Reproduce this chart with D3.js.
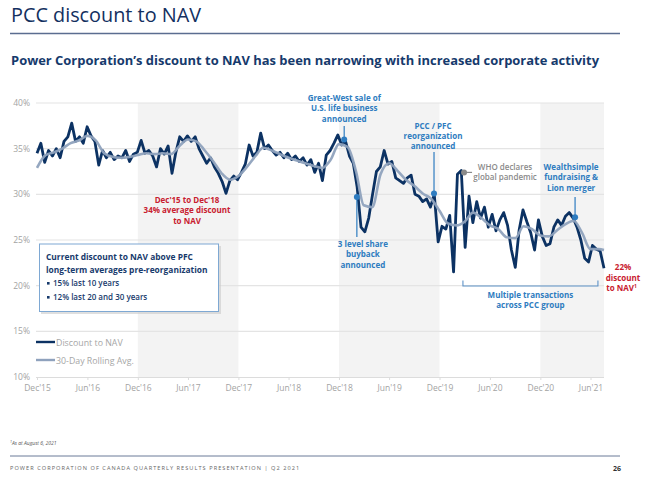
<!DOCTYPE html>
<html><head><meta charset="utf-8">
<script src="https://cdn.jsdelivr.net/npm/d3@7/dist/d3.min.js"></script>
<style>
body{margin:0;background:#fff;}
svg{display:block;font-family:"Open Sans",sans-serif;}
</style></head><body>
<svg id="c" width="659" height="477"></svg>
<script>
// ---- data ----
const discountStart = "2015-12-01";
const discountStepDays = 14;
const discountValues = [34.5,35.6,33.5,34.8,34.2,35.0,34.0,35.8,36.3,37.8,35.8,36.3,35.6,37.4,36.4,35.8,33.2,34.8,34.0,34.6,
33.8,34.2,34.0,34.8,33.6,34.4,34.6,35.9,34.5,34.8,34.2,33.0,35.0,34.4,35.3,32.3,34.6,36.3,35.8,36.4,
35.8,36.3,35.0,34.2,33.4,34.0,33.0,32.3,31.4,30.1,31.5,32.0,31.6,32.4,33.3,35.4,34.2,34.6,36.7,35.0,
35.4,34.8,34.3,34.6,34.0,34.5,33.8,34.2,33.6,34.0,33.2,33.8,32.4,33.4,31.5,34.3,34.8,35.6,36.5,35.4,
35.8,34.2,33.4,30.8,26.4,25.9,27.4,30.0,32.5,33.0,34.8,33.3,33.6,31.8,31.5,31.2,31.8,32.1,30.0,29.8,
29.2,29.5,28.6,30.0,24.8,26.5,26.2,27.7,21.5,32.2,32.6,24.2,29.8,26.9,29.2,27.4,28.6,26.4,27.8,26.0,
27.2,28.0,26.6,23.9,22.0,26.1,28.3,27.0,25.8,23.9,27.2,25.4,24.4,24.6,26.4,27.2,26.6,27.6,28.0,27.4,
26.4,25.0,23.0,22.6,24.4,24.0,23.8,21.9];
const rollingStart = "2015-12-01";
const rollingValues = [32.9,34.3,34.6,35.0,35.6,35.9,36.4,35.9,34.5,34.1,34.0,34.1,34.3,34.5,34.4,34.5,34.4,35.3,36.0,35.8,
34.8,33.6,32.3,31.6,32.0,33.0,34.2,35.1,34.8,34.4,34.0,33.7,33.4,33.1,32.9,33.8,35.5,35.2,32.5,28.8,
28.6,32.2,33.4,32.6,31.6,30.9,30.1,29.5,28.2,26.8,26.6,27.0,28.0,27.4,26.6,26.2,25.3,25.2,26.5,26.2,
25.5,25.4,26.1,26.7,27.1,25.8,24.0,24.0];
const rollingLast = ["2021-07-20", 23.9];
const yTicks = [10,15,20,25,30,35,40];
const xTickDates = ["2015-12-01","2016-06-01","2016-12-01","2017-06-01","2017-12-01","2018-06-01","2018-12-01","2019-06-01","2019-12-01","2020-06-01","2020-12-01","2021-06-01"];
const xTickLabels = ["Dec'15","Jun'16","Dec'16","Jun'17","Dec'17","Jun'18","Dec'18","Jun'19","Dec'19","Jun'20","Dec'20","Jun'21"];
const shadedBands = [["2016-12-01","2017-12-01"],["2018-12-01","2019-12-01"],["2020-12-01","2021-07-20"]];
const eventDates = ["2018-12-20","2019-02-04","2019-11-11","2020-02-28","2021-04-06"];
const eventValues = [36.0, 29.7, 30.1, 32.4, 27.5];
const eventLabels = [
  ["Great-West sale of","U.S. life business","announced"],
  ["3 level share","buyback","announced"],
  ["PCC / PFC","reorganization","announced"],
  ["WHO declares","global pandemic"],
  ["Wealthsimple","fundraising &","Lion merger"]
];
const rangeNoteDates = ["2020-02-24","2021-06-28"];
const rangeNoteLabel = ["Multiple transactions","across PCC group"];
const periodNote = ["Dec'15 to Dec'18","34% average discount","to NAV"];
const currentNote = ["22%","discount","to NAV"];
const legendItems = ["Discount to NAV","30-Day Rolling Avg."];
const boxLines = ["Current discount to NAV above PFC","long-term averages pre-reorganization"];
const boxBullets = ["15% last 10 years","12% last 20 and 30 years"];

// ---- layout (not data) ----
const eventLayout = [
  {color:"#2e7cc0", lineTo:126, textX:0, textY:101, weight:700},
  {color:"#2e7cc0", lineTo:237, textX:6, textY:247, weight:700},
  {color:"#2e7cc0", lineTo:152, textX:-1, textY:128.5, weight:700},
  {color:"#8a8a8a", lineToX:8, textX:41, textY:170, weight:600},
  {color:"#2e7cc0", lineTo:197, textX:-4, textY:170, weight:700}
];

// ---- build ----
const parse = d3.utcParse("%Y-%m-%d");
const t0 = parse(discountStart);
const discount = discountValues.map((v,i)=>({date:d3.utcDay.offset(t0,i*discountStepDays), value:v}));
const r0 = parse(rollingStart);
const rolling = rollingValues.map((v,i)=>({date:d3.utcMonth.offset(r0,i), value:v}));
rolling.push({date:parse(rollingLast[0]), value:rollingLast[1]});

const svg = d3.select("#c");
const navy="#0c3263", light="#8fa2bd", red="#c8202f", grey="#a3a3a3";
const x = d3.scaleUtc().domain([parse("2015-12-01"), parse("2021-07-20")]).range([37,604]);
const y = d3.scaleLinear().domain([10,40]).range([377,103]);

// header
svg.append("text").attr("x",11).attr("y",22).attr("fill","#13305f").attr("font-size",20).attr("font-weight",500)
  .attr("textLength",190).attr("lengthAdjust","spacingAndGlyphs").text("PCC discount to NAV");
svg.append("line").attr("x1",10).attr("x2",620).attr("y1",33.5).attr("y2",33.5).attr("stroke","#5b6d90").attr("stroke-width",1.5);
svg.append("text").attr("x",11).attr("y",64.5).attr("fill","#163a6c").attr("font-size",13).attr("font-weight",700)
  .attr("textLength",588).attr("lengthAdjust","spacingAndGlyphs")
  .text("Power Corporation’s discount to NAV has been narrowing with increased corporate activity");

// shaded bands
svg.append("g").selectAll("rect").data(shadedBands).join("rect")
  .attr("x",d=>x(parse(d[0]))).attr("width",d=>x(parse(d[1]))-x(parse(d[0])))
  .attr("y",y(40)).attr("height",y(10)-y(40)).attr("fill","#f3f3f3");

// grid
svg.append("g").selectAll("line").data(yTicks.slice(1)).join("line")
  .attr("x1",36).attr("x2",604).attr("y1",d=>y(d)).attr("y2",d=>y(d))
  .attr("stroke","#e4e4e4").attr("stroke-width",1.2);

// y axis labels
svg.append("g").selectAll("text").data(yTicks).join("text")
  .attr("x",30).attr("y",d=>y(d)+3).attr("text-anchor","end")
  .attr("font-size",8.5).attr("fill",grey).text(d=>d+"%");

// x axis
const xa = svg.append("g").attr("transform",`translate(0,${y(10)})`)
  .call(d3.axisBottom(x).tickValues(xTickDates.map(parse)).tickFormat((d,i)=>xTickLabels[i]).tickSize(3).tickPadding(5));
xa.select(".domain").attr("stroke","#dcdcdc").attr("d",`M36,0.5H604`);
xa.selectAll(".tick line").attr("stroke","#dcdcdc");
xa.selectAll(".tick text").attr("fill",grey).attr("font-size",8.5).attr("font-family","Open Sans");

// lines
const line = d3.line().x(d=>x(d.date)).y(d=>y(d.value));
svg.append("path").datum(discount).attr("d",line).attr("fill","none").attr("stroke",navy).attr("stroke-width",2.8).attr("stroke-linejoin","round");
svg.append("path").datum(rolling).attr("d",line.curve(d3.curveMonotoneX)).attr("fill","none").attr("stroke",light).attr("stroke-width",2.6).attr("opacity",0.95);

// events
eventDates.forEach((dstr,k)=>{
  const L=eventLayout[k], ex=x(parse(dstr)), ey=y(eventValues[k]);
  const g=svg.append("g").attr("fill",L.color);
  if(L.lineToX!==undefined){
    g.append("line").attr("x1",ex).attr("x2",ex+L.lineToX).attr("y1",ey).attr("y2",ey).attr("stroke",L.color).attr("stroke-width",1.2);
  } else {
    g.append("line").attr("x1",ex).attr("x2",ex).attr("y1",ey).attr("y2",L.lineTo).attr("stroke",L.color).attr("stroke-width",1.2);
  }
  g.append("circle").attr("cx",ex).attr("cy",ey).attr("r",3).attr("fill",L.color);
  eventLabels[k].forEach((l,i)=>g.append("text").attr("x",ex+L.textX).attr("y",L.textY+i*10.3)
    .attr("text-anchor","middle").attr("font-size",8).attr("font-weight",L.weight).text(l));
});

// red annotations
const redA = svg.append("g").attr("fill",red).attr("font-size",8).attr("font-weight",700).attr("text-anchor","middle");
periodNote.forEach((l,i)=>redA.append("text").attr("x",187).attr("y",203+i*10.3).text(l));
const redB = svg.append("g").attr("fill",red).attr("font-size",8).attr("font-weight",700).attr("text-anchor","middle");
currentNote.forEach((l,i)=>{
  const t=redB.append("text").attr("x",i===2?621.5:623).attr("y",270+i*10.5).text(l);
  if(i===2) t.append("tspan").attr("font-size",5).attr("dy",-3).text("1");
});

// bracket
const bx1=x(parse(rangeNoteDates[0])), bx2=x(parse(rangeNoteDates[1])), by=286;
svg.append("path").attr("d",`M${bx1},${by-5.5}V${by}H${bx2}V${by-5.5}`).attr("fill","none").attr("stroke","#5f93c8").attr("stroke-width",1.1);
const mt=svg.append("g").attr("fill","#2e7cc0").attr("font-size",8).attr("font-weight",700).attr("text-anchor","middle");
rangeNoteLabel.forEach((l,i)=>mt.append("text").attr("x",(bx1+bx2)/2).attr("y",298+i*10.3).text(l));

// box
svg.append("rect").attr("x",41).attr("y",246).attr("width",180).attr("height",68).attr("fill","#c9c9c9").attr("opacity",0.6);
svg.append("rect").attr("x",39.5).attr("y",244).attr("width",179).attr("height",67.5).attr("fill","#fff").attr("stroke","#7ea8d3").attr("stroke-width",1);
const bt=svg.append("g").attr("fill","#173a6c").attr("font-size",8.4).attr("font-weight",700);
boxLines.forEach((l,i)=>bt.append("text").attr("x",46).attr("y",260+i*13.3).text(l));
boxBullets.forEach((l,i)=>{
  bt.append("rect").attr("x",47).attr("y",282+i*14).attr("width",2.6).attr("height",2.6).attr("fill","#173a6c");
  bt.append("text").attr("x",53).attr("y",285.5+i*14).attr("font-size",8).attr("font-weight",600).text(l);
});

// legend
const lg=svg.append("g");
legendItems.forEach((l,i)=>{
  const ly=342+i*18;
  lg.append("line").attr("x1",36).attr("x2",55).attr("y1",ly).attr("y2",ly).attr("stroke",i?light:navy).attr("stroke-width",2.4);
  lg.append("text").attr("x",56).attr("y",ly+3.5).attr("font-size",8.8).attr("fill","#a6a6a6").text(l);
});

// footer
const fn=svg.append("text").attr("x",10).attr("y",445).attr("font-size",5).attr("font-style","italic").attr("fill","#555");
fn.append("tspan").attr("font-size",3.5).attr("dy",-2).text("1");
fn.append("tspan").attr("dy",2).text("As at August 6, 2021");
svg.append("line").attr("x1",10).attr("x2",620).attr("y1",456).attr("y2",456).attr("stroke","#6b7b98").attr("stroke-width",1);
svg.append("text").attr("x",10).attr("y",470).attr("font-size",5.6).attr("letter-spacing",1.05).attr("fill","#666").text("POWER CORPORATION OF CANADA QUARTERLY RESULTS PRESENTATION | Q2 2021");
svg.append("text").attr("x",613).attr("y",470.5).attr("font-size",7).attr("font-weight",700).attr("fill","#333").text("26");
</script></body></html>
